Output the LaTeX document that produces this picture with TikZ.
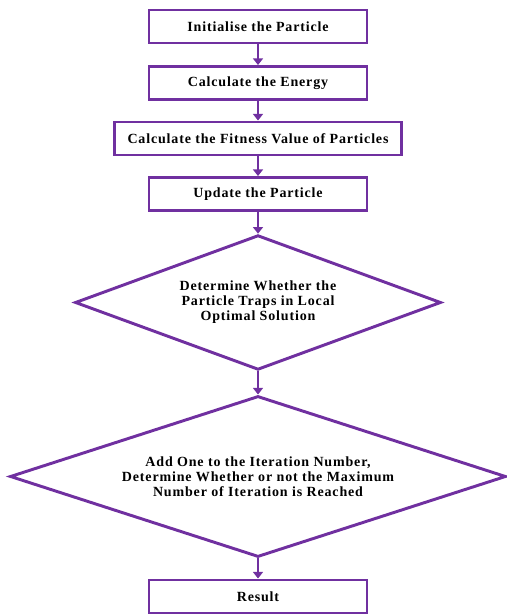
\documentclass[tikz,border=0pt]{standalone}
\usepackage{fontspec}
\setmainfont{Liberation Serif}[LetterSpace=6]
\usetikzlibrary{shapes.geometric,arrows.meta}
\definecolor{flowpurple}{RGB}{112,48,160}
\begin{document}
\begin{tikzpicture}[x=0.75pt,y=0.75pt,>={Triangle[width=7.5pt,length=5pt]},
		font=\fontsize{10.5}{11.25}\selectfont\bfseries,
		box/.style={draw=flowpurple,line width=2.2pt,minimum height=24.75pt,inner sep=0pt},
		decision/.style={draw=flowpurple,line width=2.2pt,diamond,inner sep=0pt,align=center},
		arr/.style={->,draw=flowpurple,line width=2.2pt}]
	\useasboundingbox (0,0) rectangle (506,616);
	\node[box,minimum width=163.5pt] (init) at (258,589.5) {Initialise the Particle};
	\node[box,minimum width=163.5pt] (energy) at (258,533) {Calculate the Energy};
	\node[box,minimum width=215pt] (fitness) at (258,477.5) {Calculate the Fitness Value of Particles};
	\node[box,minimum width=163.5pt] (update) at (258,422) {Update the Particle};
	\node[decision,aspect=2.7,minimum width=274.5pt,minimum height=101pt] (trap) at (258,313.5)
		{Determine Whether the\\Particle Traps in Local\\Optimal Solution};
	\node[decision,aspect=3.1,minimum width=372pt,minimum height=120.75pt] (iter) at (258,139.5)
		{Add One to the Iteration Number,\\Determine Whether or not the Maximum\\Number of Iteration is Reached};
	\node[box,minimum width=163.5pt] (result) at (258,19.5) {Result};
	% connectors
	\draw[arr] (init) -- (energy);
	\draw[arr] (energy) -- (fitness);
	\draw[arr] (fitness) -- (update);
	\draw[arr] (update) -- (trap);
	\draw[arr] (trap) -- (iter);
	\draw[arr] (iter) -- (result);
\end{tikzpicture}
\end{document}
